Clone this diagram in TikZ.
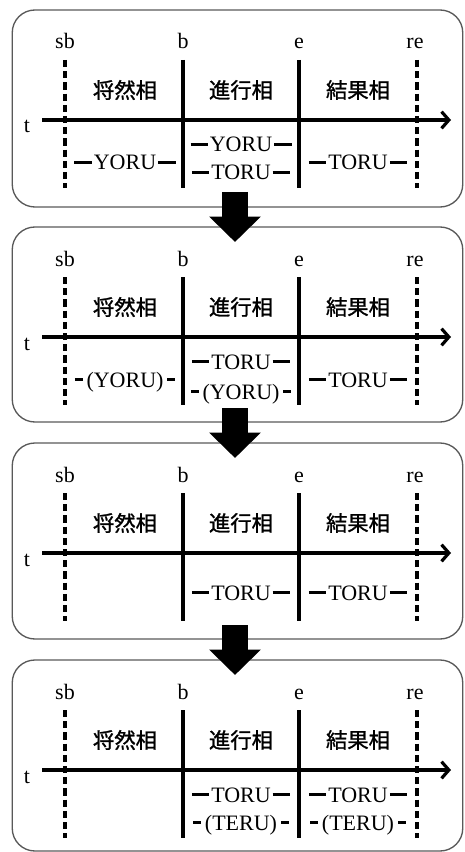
\documentclass[tikz,border=0pt]{standalone}
\usepackage{fontspec}
\setmainfont{Liberation Serif}
\newfontfamily\jp[FakeBold=1.2]{Noto Sans CJK JP}
\usetikzlibrary{arrows.meta}
\newcommand\dsh{\rule[4.6pt]{13pt}{1.9pt}}
\newcommand\hy{\rule[4.6pt]{5.8pt}{1.9pt}}
\newcommand\dashed[1]{\dsh\hspace{1.5pt}#1\hspace{1.5pt}\dsh}
\newcommand\hyph[1]{\hy\hspace{3pt}#1\hspace{3pt}\hy}
\tikzset{
  panelbox/.style={draw=black!65, line width=1pt, rounded corners=17pt},
  solidline/.style={line width=2.6pt},
  dashline/.style={line width=2.6pt, dash pattern=on 5.4pt off 3pt},
  axisline/.style={line width=2.4pt, -{Straight Barb[length=5.5pt,width=12.5pt]}},
  lbl/.style={font=\fontsize{16.5}{19}\selectfont, inner sep=0pt, anchor=base},
  phase/.style={font=\jp\fontsize{16}{19}\selectfont, inner sep=0pt},
  txt/.style={font=\fontsize{16.5}{19}\selectfont, inner sep=0pt, anchor=base},
  blockarrow/.style={line width=19.5pt, -{Triangle[length=19pt,width=37.5pt]}},
}
\begin{document}
\begin{tikzpicture}[x=0.75pt,y=-0.75pt]
\useasboundingbox (0,0) rectangle (464,852);
\foreach \i/\T/\B in {1/10/207, 2/227/422, 3/443/639, 4/660/851}{
  \node[panelbox, minimum width=450.5*0.75pt, minimum height={(\B-\T)*0.75pt}, inner sep=0pt] (p\i) at (237.5,{(\T+\B)/2}) {};
  \coordinate (p\i-sbt) at (65,{\T+50});  \coordinate (p\i-sbb) at (65,{\T+178});
  \coordinate (p\i-bt)  at (183,{\T+50}); \coordinate (p\i-bb)  at (183,{\T+178});
  \coordinate (p\i-et)  at (299,{\T+50}); \coordinate (p\i-eb)  at (299,{\T+178});
  \coordinate (p\i-ret) at (417,{\T+50}); \coordinate (p\i-reb) at (417,{\T+178});
  \coordinate (p\i-ts) at (42,{\T+110});  \coordinate (p\i-te) at (451,{\T+110});
  \draw[dashline] (p\i-sbt) -- (p\i-sbb);
  \draw[dashline] (p\i-ret) -- (p\i-reb);
  \draw[solidline] (p\i-bt) -- (p\i-bb);
  \draw[solidline] (p\i-et) -- (p\i-eb);
  \draw[axisline] (p\i-ts) -- (p\i-te);
  \node[lbl] (p\i-sb) at (65,{\T+39}) {sb};
  \node[lbl] (p\i-b)  at (183,{\T+39}) {b};
  \node[lbl] (p\i-e)  at (299,{\T+39}) {e};
  \node[lbl] (p\i-re) at (415,{\T+39}) {re};
  \node[lbl] (p\i-t)  at (27,{\T+123}) {t};
  \node[phase] (p\i-ph1) at (125,{\T+80}) {将然相};
  \node[phase] (p\i-ph2) at (241,{\T+80}) {進行相};
  \node[phase] (p\i-ph3) at (358,{\T+80}) {結果相};
}
% panel 1
\node[txt] (p1-l) at (125,170) {\dashed{YORU}};
\node[txt] (p1-m1) at (241,152) {\dashed{YORU}};
\node[txt] (p1-m2) at (241,180) {\dashed{TORU}};
\node[txt] (p1-r) at (358,170) {\dashed{TORU}};
% panel 2
\node[txt] (p2-l) at (125,387) {\hyph{(YORU)}};
\node[txt] (p2-m1) at (241,369) {\dashed{TORU}};
\node[txt] (p2-m2) at (241,399) {\hyph{(YORU)}};
\node[txt] (p2-r) at (358,387) {\dashed{TORU}};
% panel 3
\node[txt] (p3-m) at (241,600) {\dashed{TORU}};
\node[txt] (p3-r) at (358,600) {\dashed{TORU}};
% panel 4
\node[txt] (p4-m1) at (241,802) {\dashed{TORU}};
\node[txt] (p4-m2) at (241,830) {\hyph{(TERU)}};
\node[txt] (p4-r1) at (358,802) {\dashed{TORU}};
\node[txt] (p4-r2) at (358,830) {\hyph{(TERU)}};
% block arrows
\coordinate (a1s) at (235,192); \coordinate (a1e) at (235,242);
\coordinate (a2s) at (235,408); \coordinate (a2e) at (235,458);
\coordinate (a3s) at (235,625); \coordinate (a3e) at (235,675);
\draw[blockarrow] (a1s) -- (a1e);
\draw[blockarrow] (a2s) -- (a2e);
\draw[blockarrow] (a3s) -- (a3e);
\end{tikzpicture}
\end{document}
